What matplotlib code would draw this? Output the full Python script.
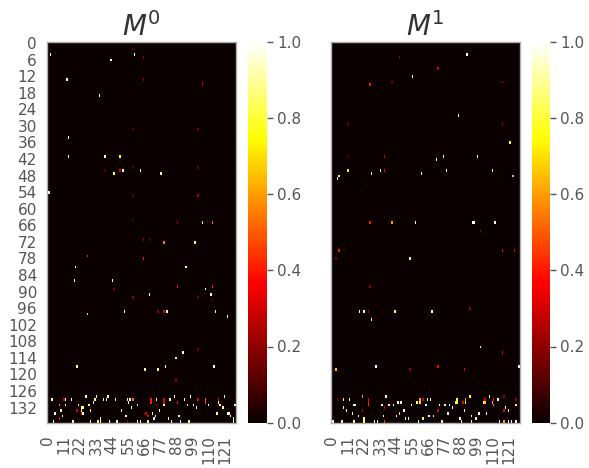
import numpy as np
import matplotlib
matplotlib.use("Agg")
import matplotlib.pyplot as plt

n_rows = 138
n_cols = 129
x_ticks = list(range(0, 129, 11))
y_ticks = list(range(0, 138, 6))
cbar_ticks = [0.0, 0.2, 0.4, 0.6, 0.8, 1.0]

## (fila, columna, valor)
m0_scattered = [
    (4,2,.85),(6,43,.95),(4,59,.98),(5,65,.2),(2,58,.1),(13,13,.95),(13,65,.25),(14,105,.25),(15,105,.25),
    (19,35,1),(34,14,.9),(31,58,.12),(31,102,.2),(41,14,.92),(41,39,.88),(41,49,.78),(47,45,.78),(46,49,.3),
    (46,51,.95),(46,63,.98),(47,77,.88),(45,58,.12),(45,102,.15),(46,39,.12),(54,0,1),(54,1,1),(55,58,.12),
    (55,102,.25),(65,105,.72),(65,112,.55),(65,88,.2),(64,58,.1),(71,65,.2),(71,69,.2),(72,79,.55),(72,100,.85),
    (77,27,.4),(78,65,.4),(81,19,1),(81,94,.85),(86,18,.9),(86,44,.95),(89,45,.2),(88,88,.4),(88,112,.4),
    (89,107,1),(91,111,.9),(91,69,.85),(92,58,.2),(92,102,.15),(93,112,.15),(98,27,.7),(97,52,.9),(97,75,.2),
    (97,79,.3),(97,81,.9),(97,114,.9),(97,128,1),(99,122,.85),(112,92,.95),(111,102,.15),(114,87,.85),(117,20,.85),
    (118,66,.9),(118,75,.82),(117,80,.9),(117,113,1),(122,87,.2),
]
m0_band = [
    (128,26,.9),(128,33,.8),(128,41,.85),(128,86,.95),(128,97,.9),(128,120,.85),
    (129,3,.85),(129,11,.3),(129,12,.85),(129,16,1),(129,32,.9),(129,38,.88),(129,40,.9),(129,46,.85),(129,54,.9),
    (129,56,.9),(129,58,.55),(129,70,.4),(129,74,.8),(129,79,.3),(129,83,1),(129,93,.9),(129,102,.3),(129,107,.5),(129,116,.35),
    (130,70,.4),(130,79,.3),(130,107,.5),(130,55,.9),(130,31,.95),(130,88,.4),(130,116,.85),
    (131,8,.6),(131,12,.85),(131,21,.9),(131,28,.85),(131,61,.9),(131,74,.2),(131,79,.9),(131,95,.95),(131,99,1),
    (131,109,.95),(131,117,.9),(131,127,.95),
    (132,23,.8),(132,24,.9),(132,57,1),(132,101,1),(132,119,.9),
    (133,9,.9),(133,20,.3),(133,29,.75),(133,23,.8),(133,50,.85),(133,76,.9),
    (134,5,.95),(134,23,.35),(134,24,.9),(134,71,.85),(134,115,.9),(134,122,.9),(134,123,.95),(134,67,.3),(134,66,.2),
    (135,10,.85),(135,53,1),(135,89,.9),(135,68,.3),(135,124,1),(135,73,.9),
    (136,8,.4),(136,36,.9),(136,72,1),(136,82,.9),(136,126,.9),
    (137,4,1),(137,17,.9),(137,29,.9),(137,34,.9),(137,36,.9),(137,42,1),(137,47,1),(137,54,.2),(137,61,.9),
    (137,63,1),(137,68,.85),(137,84,.9),(137,90,1),(137,96,.9),(137,126,.9),
]
m1_scattered = [
    (5,46,.2),(4,92,1),(9,72,.3),(12,55,1),(15,26,.4),(14,41,.2),(14,116,.3),(26,86,.9),(29,11,.12),(29,116,.25),
    (29,128,.35),(36,121,.78),(36,128,.2),(41,36,.3),(41,76,.88),(41,99,.9),(42,71,.88),(41,11,.1),(46,11,.7),
    (47,27,.85),(46,33,.9),(46,36,.35),(47,61,.85),(46,78,1),(46,109,.85),(48,5,.8),(49,4,.9),(48,123,.65),
    (48,116,.15),(48,128,.15),(51,23,.1),(65,26,.4),(65,41,.6),(65,57,.85),(65,96,1),(65,97,1),(65,111,1),(68,101,.25),
    (75,5,.4),(75,116,.35),(75,124,.3),(78,3,.15),(78,53,.8),(85,0,1),(88,26,.2),(97,19,.95),(97,22,.85),(97,25,.25),
    (97,43,.85),(97,68,1),(96,94,.2),(100,27,.85),(110,101,.85),(112,116,.35),(117,30,1),(117,72,.35),(118,53,.2),
    (118,3,.65),(118,90,.3),(117,127,1),(119,128,.3),
]
m1_band = [
    (128,21,.6),(128,37,.85),(128,94,.75),(128,107,1),(128,117,.2),
    (129,4,.2),(129,8,.75),(129,12,.85),(129,25,.35),(129,60,.6),(129,62,.3),(129,65,.9),(129,67,.9),(129,85,.8),
    (129,91,.6),(129,104,.35),(129,110,.35),(129,113,.9),(129,125,.2),
    (130,25,.4),(130,45,.95),(130,47,.9),(130,58,.85),(130,60,.7),(130,85,.8),(130,84,.9),(130,91,.75),(130,89,.35),
    (130,104,.7),(130,103,.85),(130,109,.65),
    (131,15,.9),(131,16,.85),(131,25,.45),(131,34,.85),(131,39,.9),(131,54,.95),(131,64,1),(131,73,1),(131,77,.95),
    (131,80,.95),(131,110,.55),(131,125,.8),(131,42,.85),
    (132,8,.85),(132,36,.3),(132,82,1),(132,118,.95),
    (133,10,.95),(133,21,.3),(133,49,.95),(133,72,.3),(133,90,.85),(133,117,.3),(133,120,.85),
    (134,14,.95),(134,46,.7),(134,79,.95),(134,100,.95),(134,105,.85),
    (135,18,1),(135,35,.95),(135,44,1),(135,66,1),(135,69,.95),(135,95,.9),
    (136,22,.85),(136,50,1),(136,62,.8),(136,98,.9),(136,52,.95),(136,87,.9),
    (137,1,1),(137,7,1),(137,15,.9),(137,22,.85),(137,29,.95),(137,31,1),(137,36,.45),(137,59,1),(137,75,.9),
    (137,88,1),(137,95,.9),(137,114,1),(137,117,.6),(137,120,1),(137,122,1),(137,125,1),(137,128,.9),
]


def to_matrix(cells):
    mat = np.zeros((n_rows, n_cols))
    for r, c, v in cells:
        mat[r, c] = v
    return mat


W, H = 589, 468
TXT = "#555555"
fig = plt.figure(figsize=(W / 100, H / 100), dpi=100)

panels = [
    (r"$M^0$", m0_scattered + m0_band, 46.7, 248.3, True),
    (r"$M^1$", m1_scattered + m1_band, 330.7, 531.5, False),
]
for title, cells, left, cleft, show_y in panels:
    ax = fig.add_axes([left / W, 1 - 422.7 / H, 189.5 / W, 381 / H])
    im = ax.imshow(to_matrix(cells), cmap="hot", vmin=0, vmax=1, aspect="auto",
                   interpolation="nearest", extent=(0, n_cols, n_rows, 0))
    ax.set_xticks([t + 0.5 for t in x_ticks])
    ax.set_xticklabels(x_ticks, rotation=90)
    if show_y:
        ax.set_yticks([t + 0.5 for t in y_ticks])
        ax.set_yticklabels(y_ticks)
    else:
        ax.set_yticks([])
    ax.tick_params(axis="x", length=0, pad=9, labelsize=11, labelcolor=TXT)
    ax.tick_params(axis="y", length=0, pad=7, labelsize=11, labelcolor=TXT)
    for s in ax.spines.values():
        s.set_color("#b0b0b0")
        s.set_linewidth(1)
    ax.set_title(title, fontsize=20, color="#333333", pad=4)

    cax = fig.add_axes([cleft / W, 1 - 422.7 / H, 18.8 / W, 381 / H])
    cb = fig.colorbar(im, cax=cax)
    cb.outline.set_visible(False)
    cb.set_ticks(cbar_ticks)
    cb.ax.tick_params(length=4, width=1, color=TXT, labelcolor=TXT, labelsize=11, pad=3)

plt.savefig("out.png", dpi=100)
